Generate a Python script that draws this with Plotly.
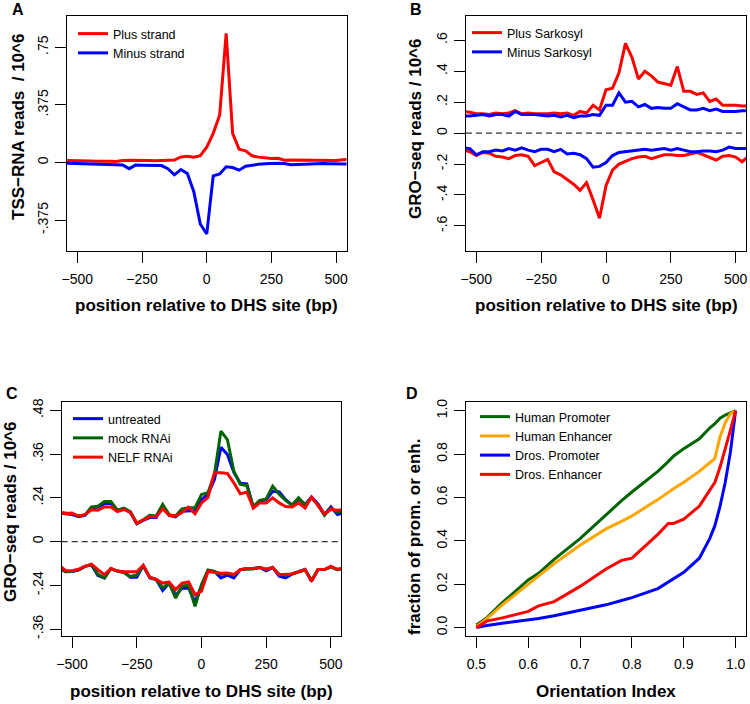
import plotly.graph_objects as go

W, H = 750, 704
FONT = "Liberation Sans, Arial, Helvetica, sans-serif"

# ---------------- data ----------------
pos = list(range(-550, 551, 25))  # bp relative to DHS site

# Panel A: TSS-RNA reads / 10^6
a_plus = [0.013, 0.013, 0.012, 0.010, 0.010, 0.008, 0.010, 0.008, 0.006, 0.013, 0.014, 0.015,
          0.014, 0.013, 0.011, 0.012, 0.014, 0.016, 0.036, 0.040, 0.035, 0.045, 0.10, 0.19,
          0.31, 0.84, 0.19, 0.087, 0.076, 0.044, 0.035, 0.030, 0.026, 0.027, 0.015, 0.016,
          0.015, 0.014, 0.013, 0.012, 0.012, 0.011, 0.013, 0.018, 0.020]
a_minus = [-0.005, -0.006, -0.008, -0.010, -0.009, -0.012, -0.014, -0.013, -0.012, -0.016, -0.040,
           -0.017, -0.018, -0.019, -0.018, -0.020, -0.040, -0.080, -0.046, -0.072, -0.19, -0.40,
           -0.465, -0.087, -0.074, -0.028, -0.033, -0.050, -0.024, -0.017, -0.012, -0.008, -0.006,
           -0.005, -0.007, -0.014, -0.013, -0.011, -0.008, -0.009, -0.007, -0.008, -0.009, -0.010, -0.010]

# Panel B: GRO-seq reads / 10^6 (plus / minus Sarkosyl, sense and antisense)
b_plus_top = [0.14, 0.135, 0.125, 0.125, 0.12, 0.13, 0.125, 0.13, 0.145, 0.125, 0.13, 0.125, 0.125,
              0.125, 0.13, 0.125, 0.13, 0.115, 0.14, 0.13, 0.18, 0.15, 0.28, 0.29, 0.39, 0.58, 0.49,
              0.35, 0.40, 0.37, 0.33, 0.32, 0.31, 0.43, 0.27, 0.27, 0.25, 0.26, 0.205, 0.22, 0.18,
              0.18, 0.18, 0.175, 0.175]
b_minus_top = [0.11, 0.11, 0.115, 0.12, 0.11, 0.12, 0.12, 0.11, 0.14, 0.12, 0.12, 0.12, 0.115, 0.11,
               0.115, 0.105, 0.115, 0.10, 0.11, 0.11, 0.12, 0.115, 0.18, 0.18, 0.26, 0.20, 0.205,
               0.17, 0.185, 0.16, 0.165, 0.16, 0.16, 0.19, 0.17, 0.15, 0.15, 0.16, 0.145, 0.155,
               0.14, 0.14, 0.14, 0.145, 0.145]
b_plus_bot = [-0.11, -0.12, -0.145, -0.125, -0.13, -0.15, -0.155, -0.165, -0.145, -0.14, -0.15, -0.21,
              -0.19, -0.17, -0.25, -0.27, -0.30, -0.33, -0.37, -0.32, -0.43, -0.55, -0.34, -0.24,
              -0.20, -0.18, -0.165, -0.155, -0.15, -0.165, -0.15, -0.14, -0.14, -0.145, -0.145,
              -0.135, -0.125, -0.14, -0.16, -0.175, -0.15, -0.145, -0.155, -0.185, -0.15]
b_minus_bot = [-0.095, -0.10, -0.14, -0.12, -0.12, -0.11, -0.115, -0.10, -0.11, -0.095, -0.11, -0.12,
               -0.105, -0.105, -0.12, -0.105, -0.135, -0.13, -0.14, -0.165, -0.22, -0.215, -0.19,
               -0.145, -0.125, -0.12, -0.115, -0.11, -0.105, -0.11, -0.105, -0.10, -0.11, -0.10,
               -0.11, -0.12, -0.12, -0.115, -0.115, -0.12, -0.11, -0.09, -0.10, -0.10, -0.10]

# Panel C: GRO-seq reads / 10^6 (axis position units; labels as printed)
c_untr_top = [0.078, 0.076, 0.074, 0.068, 0.072, 0.092, 0.095, 0.104, 0.105, 0.085, 0.090, 0.081,
              0.049, 0.058, 0.066, 0.066, 0.097, 0.072, 0.068, 0.083, 0.083, 0.085, 0.115, 0.130,
              0.170, 0.259, 0.239, 0.190, 0.160, 0.158, 0.094, 0.111, 0.115, 0.138, 0.136, 0.115,
              0.100, 0.117, 0.102, 0.122, 0.103, 0.074, 0.095, 0.074, 0.080]
c_mock_top = [0.080, 0.078, 0.076, 0.070, 0.073, 0.095, 0.097, 0.110, 0.110, 0.086, 0.092, 0.082,
              0.050, 0.060, 0.072, 0.070, 0.102, 0.074, 0.070, 0.090, 0.093, 0.093, 0.129, 0.134,
              0.185, 0.303, 0.280, 0.193, 0.157, 0.154, 0.096, 0.113, 0.117, 0.152, 0.130, 0.113,
              0.100, 0.120, 0.100, 0.120, 0.100, 0.072, 0.092, 0.080, 0.085]
c_nelf_top = [0.080, 0.077, 0.078, 0.070, 0.074, 0.087, 0.086, 0.095, 0.095, 0.082, 0.088, 0.080,
              0.050, 0.058, 0.068, 0.068, 0.090, 0.072, 0.070, 0.080, 0.094, 0.076, 0.106, 0.121,
              0.189, 0.189, 0.187, 0.161, 0.131, 0.136, 0.092, 0.106, 0.106, 0.120, 0.106, 0.096,
              0.095, 0.106, 0.092, 0.122, 0.100, 0.076, 0.088, 0.086, 0.088]
c_untr_bot = [-0.072, -0.083, -0.082, -0.078, -0.068, -0.064, -0.093, -0.100, -0.074, -0.081, -0.084,
              -0.098, -0.098, -0.066, -0.100, -0.104, -0.134, -0.114, -0.148, -0.128, -0.128, -0.166,
              -0.122, -0.080, -0.082, -0.100, -0.092, -0.100, -0.077, -0.074, -0.074, -0.071, -0.080,
              -0.071, -0.095, -0.100, -0.089, -0.083, -0.076, -0.109, -0.077, -0.077, -0.068, -0.077, -0.074]
c_mock_bot = [-0.074, -0.082, -0.082, -0.077, -0.068, -0.063, -0.090, -0.100, -0.074, -0.081, -0.085,
              -0.096, -0.092, -0.066, -0.098, -0.104, -0.127, -0.114, -0.155, -0.122, -0.120, -0.178,
              -0.118, -0.078, -0.082, -0.090, -0.088, -0.092, -0.077, -0.076, -0.075, -0.071, -0.076,
              -0.072, -0.090, -0.092, -0.089, -0.083, -0.078, -0.106, -0.077, -0.077, -0.070, -0.077, -0.074]
c_nelf_bot = [-0.065, -0.080, -0.080, -0.076, -0.068, -0.062, -0.077, -0.091, -0.074, -0.081, -0.083,
              -0.083, -0.083, -0.065, -0.098, -0.104, -0.114, -0.111, -0.132, -0.114, -0.111, -0.146,
              -0.136, -0.082, -0.085, -0.087, -0.086, -0.090, -0.077, -0.074, -0.074, -0.071, -0.076,
              -0.071, -0.091, -0.090, -0.089, -0.083, -0.077, -0.109, -0.077, -0.077, -0.068, -0.076, -0.072]
c_tickvals = [-0.24, -0.12, 0, 0.12, 0.24, 0.36]
c_ticktext = ["-.36", "-.24", "0", ".24", ".36", ".48"]

# Panel D: cumulative fraction vs orientation index
oi = [0.5, 0.52, 0.55, 0.6, 0.62, 0.65, 0.7, 0.75, 0.78, 0.8, 0.85, 0.87, 0.88, 0.9, 0.93, 0.95,
      0.96, 0.97, 0.98, 0.99, 1.0]
human_prom = [0.012, 0.045, 0.115, 0.22, 0.25, 0.315, 0.41, 0.52, 0.585, 0.625, 0.72, 0.765, 0.79,
              0.825, 0.87, 0.92, 0.94, 0.965, 0.98, 0.99, 1.0]
human_enh = [0.005, 0.04, 0.105, 0.20, 0.235, 0.295, 0.38, 0.455, 0.49, 0.515, 0.59, 0.625, 0.64,
             0.67, 0.72, 0.76, 0.78, 0.88, 0.945, 0.985, 1.0]
dros_prom = [0.0, 0.01, 0.02, 0.035, 0.042, 0.055, 0.08, 0.105, 0.125, 0.138, 0.18, 0.21, 0.225,
             0.255, 0.32, 0.41, 0.47, 0.56, 0.67, 0.81, 1.0]
dros_enh = [0.0, 0.03, 0.045, 0.075, 0.10, 0.12, 0.19, 0.27, 0.31, 0.32, 0.43, 0.48, 0.48, 0.50,
            0.56, 0.63, 0.67, 0.74, 0.82, 0.91, 1.0]

RED, BLUE, GREEN, ORANGE = "#FF0000", "#0000FF", "#006400", "#FFA500"
LW = 3

# ---------------- layout geometry (pixels) ----------------
boxes = {
    1: (67, 346.5, 15.5, 250.7),
    2: (466, 746, 15.5, 250.7),
    3: (61.7, 341.3, 402, 636.3),
    4: (466, 746, 402, 636.3),
}


def xd(b):
    return [b[0] / W, b[1] / W]


def yd(b):
    return [1 - b[3] / H, 1 - b[2] / H]


fig = go.Figure()


def add(xs, ys, color, name, k, legend_on=True):
    fig.add_trace(go.Scatter(
        x=xs, y=ys, mode="lines", name=name,
        line=dict(color=color, width=LW),
        xaxis="x" if k == 1 else f"x{k}", yaxis="y" if k == 1 else f"y{k}",
        legend="legend" if k == 1 else f"legend{k}",
        showlegend=legend_on,
    ))


# Panel A
add(pos, a_plus, RED, "Plus strand", 1)
add(pos, a_minus, BLUE, "Minus strand", 1)
# Panel B
add(pos, b_plus_top, RED, "Plus Sarkosyl", 2)
add(pos, b_minus_top, BLUE, "Minus Sarkosyl", 2)
add(pos, b_plus_bot, RED, "Plus Sarkosyl", 2, False)
add(pos, b_minus_bot, BLUE, "Minus Sarkosyl", 2, False)
# Panel C
add(pos, c_untr_top, BLUE, "untreated", 3)
add(pos, c_mock_top, GREEN, "mock RNAi", 3)
add(pos, c_nelf_top, RED, "NELF RNAi", 3)
add(pos, c_untr_bot, BLUE, "untreated", 3, False)
add(pos, c_mock_bot, GREEN, "mock RNAi", 3, False)
add(pos, c_nelf_bot, RED, "NELF RNAi", 3, False)
# Panel D
add(oi, human_prom, GREEN, "Human Promoter", 4)
add(oi, human_enh, ORANGE, "Human Enhancer", 4)
add(oi, dros_prom, BLUE, "Dros. Promoter", 4)
add(oi, dros_enh, RED, "Dros. Enhancer", 4)

tickfont = dict(family=FONT, size=14, color="black")


def xaxis(k, rng, tv, tt):
    return dict(domain=xd(boxes[k]), range=rng, tickvals=tv, ticktext=tt,
                anchor="y" if k == 1 else f"y{k}",
                showline=True, mirror=True, linecolor="black", linewidth=1,
                ticks="outside", ticklen=11, tickwidth=1, tickcolor="black",
                ticklabelstandoff=4,
                showgrid=False, zeroline=False, tickfont=tickfont, automargin=False)


def yaxis(k, rng, tv, tt):
    return dict(domain=yd(boxes[k]), range=rng, tickvals=tv, ticktext=tt,
                anchor="x" if k == 1 else f"x{k}",
                showline=True, mirror=True, linecolor="black", linewidth=1,
                ticks="outside", ticklen=11, tickwidth=1, tickcolor="black",
                tickangle=-90, ticklabelstandoff=1,
                showgrid=False, zeroline=False, tickfont=tickfont, automargin=False)


pos_tv = [-500, -250, 0, 250, 500]
pos_tt = ["\u2212500", "\u2212250", "0", "250", "500"]

layout = dict(
    width=W, height=H, margin=dict(l=0, r=0, t=0, b=0),
    paper_bgcolor="white", plot_bgcolor="white", template="none",
    font=dict(family=FONT, color="black"),
    xaxis=xaxis(1, [-540, 540], pos_tv, pos_tt),
    yaxis=yaxis(1, [-0.574, 0.957], [-0.375, 0, 0.375, 0.75], ["-.375", "0", ".375", ".75"]),
    xaxis2=xaxis(2, [-540, 540], pos_tv, pos_tt),
    yaxis2=yaxis(2, [-0.76, 0.76], [-0.6, -0.4, -0.2, 0, 0.2, 0.4, 0.6],
                 ["-.6", "-.4", "-.2", "0", ".2", ".4", ".6"]),
    xaxis3=xaxis(3, [-540, 540], pos_tv, pos_tt),
    yaxis3=yaxis(3, [-0.26, 0.383], c_tickvals, c_ticktext),
    xaxis4=xaxis(4, [0.48, 1.02], [0.5, 0.6, 0.7, 0.8, 0.9, 1.0],
                 ["0.5", "0.6", "0.7", "0.8", "0.9", "1.0"]),
    yaxis4=yaxis(4, [-0.04, 1.04], [0, 0.2, 0.4, 0.6, 0.8, 1.0],
                 ["0.0", "0.2", "0.4", "0.6", "0.8", "1.0"]),
)

legfont = dict(family=FONT, size=12.5, color="black")
leg_pos = {1: (73, 19), 2: (467, 18), 3: (68, 404), 4: (475, 402)}
for k, (lx, ly) in leg_pos.items():
    key = "legend" if k == 1 else f"legend{k}"
    layout[key] = dict(x=lx / W, y=1 - ly / H, xanchor="left", yanchor="top",
                       bgcolor="rgba(0,0,0,0)", borderwidth=0, font=legfont,
                       itemwidth=30, tracegroupgap=0)

# zero reference lines (dashed) for B and C
shapes = []
for k in (2, 3):
    shapes.append(dict(type="line", xref=f"x{k} domain", yref=f"y{k}", x0=0, x1=1, y0=0, y1=0,
                       line=dict(color="#333333", width=1.2, dash="6px,4px"), layer="below"))
layout["shapes"] = shapes

titlefont = dict(family=FONT, size=17, color="black")
ann = []


def text(x, y, s, angle=0, font=titlefont):
    ann.append(dict(x=x / W, y=1 - y / H, xref="paper", yref="paper", text=s, showarrow=False,
                    textangle=angle, font=font, xanchor="center", yanchor="middle"))


xt = "<b>position relative to DHS site (bp)</b>"
text(206.7, 305, xt)
text(606, 305, xt)
text(201.5, 691, xt)
text(606, 691, "<b>Orientation Index</b>")
text(18, 127, "<b>TSS\u2212RNA reads  / 10^6</b>", -90)
text(415, 129, "<b>GRO\u2212seq reads / 10^6</b>", -90)
text(10, 512, "<b>GRO\u2212seq reads / 10^6</b>", -90)
text(414, 537, "<b>fraction of prom. or enh.</b>", -90)

letterfont = dict(family=FONT, size=16, color="black")
text(18, 10, "<b>A</b>", font=letterfont)
text(416, 9, "<b>B</b>", font=letterfont)
text(12, 393, "<b>C</b>", font=letterfont)
text(412, 393, "<b>D</b>", font=letterfont)
layout["annotations"] = ann

fig.update_layout(**layout)
fig.write_html("out.html", config={"displayModeBar": False},
               post_script="document.body.style.margin='0';document.body.style.overflow='hidden';")
